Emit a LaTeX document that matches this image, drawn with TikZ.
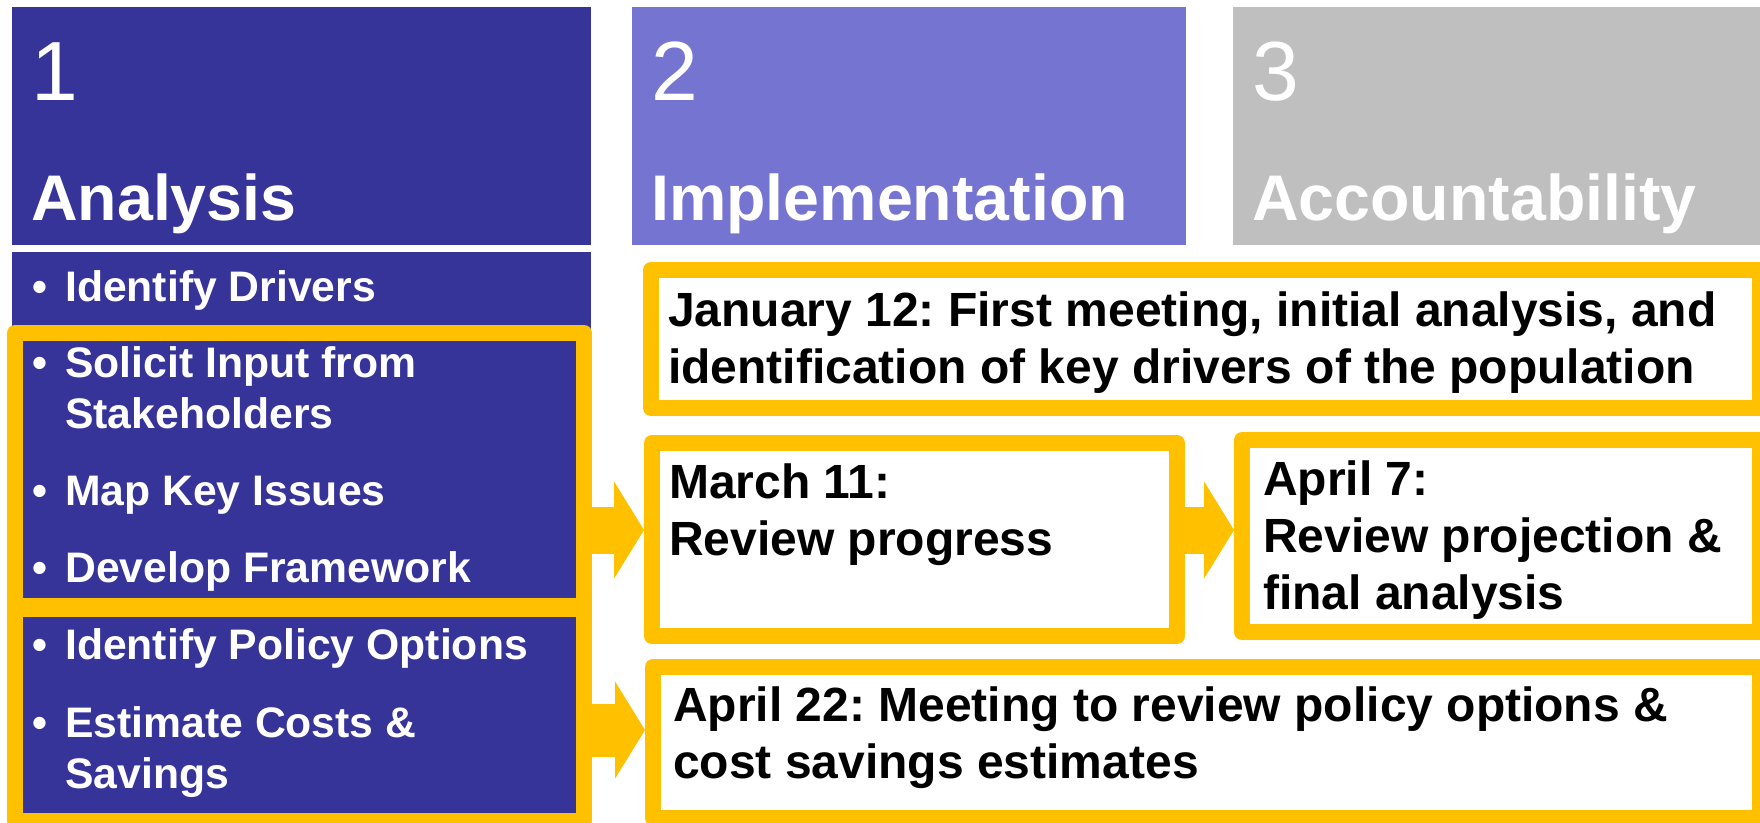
\documentclass[tikz,border=0pt]{standalone}
\usepackage{fontspec}
\setmainfont{Liberation Sans}
\frenchspacing
\usetikzlibrary{arrows.meta}
\definecolor{navy}{RGB}{54,52,153}
\definecolor{lilac}{RGB}{117,116,209}
\definecolor{ash}{RGB}{191,191,191}
\definecolor{gold}{RGB}{255,192,0}

\begin{document}
\begin{tikzpicture}[x=1pt,y=-1pt]
\tikzstyle{every node}=[inner sep=0pt]
\tikzstyle{head}=[anchor=north west, minimum height=238pt]
\tikzstyle{num}=[anchor=base west, text=white, font=\fontsize{84}{84}\selectfont]
\tikzstyle{title}=[anchor=base west, text=white, font=\fontsize{64.5}{65}\selectfont\bfseries]
\tikzstyle{frame}=[draw=gold, line width=16pt, line join=round, anchor=north west]
\tikzstyle{date}=[anchor=base west, align=left, font=\fontsize{48}{57}\selectfont\bfseries]
\tikzstyle{bul}=[anchor=base west, text=white, font=\fontsize{42.7}{51}\selectfont\bfseries]
\tikzstyle{itm}=[bul, align=left]
\tikzstyle{blockarrow}=[draw=gold, line width=47pt, -{Triangle[length=30pt,width=96pt]}]
\useasboundingbox (0,0) rectangle (1760,822);

% headers
\foreach \n/\x/\w/\c/\t in {1/12/579/navy/Analysis, 2/632/554/lilac/Implementation, 3/1233/540/ash/Accountability}{
  \node[head, fill=\c, minimum width=\w pt] (h\n) at (\x,7) {};
  \node[num] (n\n) at (\x+19,100) {\n};
  \node[title] (t\n) at (\x+19,220) {\t};
}

% analysis steps (base = last line)
\node[anchor=north west, fill=navy, minimum width=579pt, minimum height=570pt] (col) at (12,252) {};
\node[frame, minimum width=569pt, minimum height=273pt] (fa) at (7,325) {};
\node[frame, minimum width=569pt, minimum height=212pt] (fb) at (7,601) {};
\foreach \n/\y/\z/\t in {i1/301/301/{Identify Drivers}, i2/377/428/{Solicit Input from\\Stakeholders}, i3/505/505/{Map Key Issues}, i4/582/582/{Develop Framework}, i5/659/659/{Identify Policy Options}, i6/737/788/{Estimate Costs \&\\Savings}}{
  \node[bul] (b\n) at (32,\y) {•};
  \node[itm] (\n) at (65,\z) {\t};
}

% meetings
\node[frame, fill=white, minimum width=1109pt, minimum height=138pt] (jan) at (643,262) {};
\node[frame, fill=white, minimum width=525pt, minimum height=193pt] (mar) at (644,435) {};
\node[frame, fill=white, minimum width=518pt, minimum height=192pt] (apr7) at (1234,432) {};
\node[frame, fill=white, minimum width=1107pt, minimum height=151pt] (apr22) at (645,659) {};
\node[date] (tj) at (668,383) {January 12: First meeting, initial analysis, and\\identification of key drivers of the population};
\node[date] (tm) at (669,555) {March 11:\\Review progress};
\node[date] (ta) at (1263,609) {April 7:\\Review projection \&\\final analysis};
\node[date] (tp) at (673,778) {April 22: Meeting to review policy options \&\\cost savings estimates};

% arrows
\coordinate (r1) at (0,530);
\coordinate (r2) at (0,730);
\draw[blockarrow] (fa.east |- r1) -- (mar.west |- r1);
\draw[blockarrow] (mar.east |- r1) -- (apr7.west |- r1);
\draw[blockarrow, line width=53pt] (fb.east |- r2) -- (apr22.west |- r2);
\end{tikzpicture}
\end{document}
